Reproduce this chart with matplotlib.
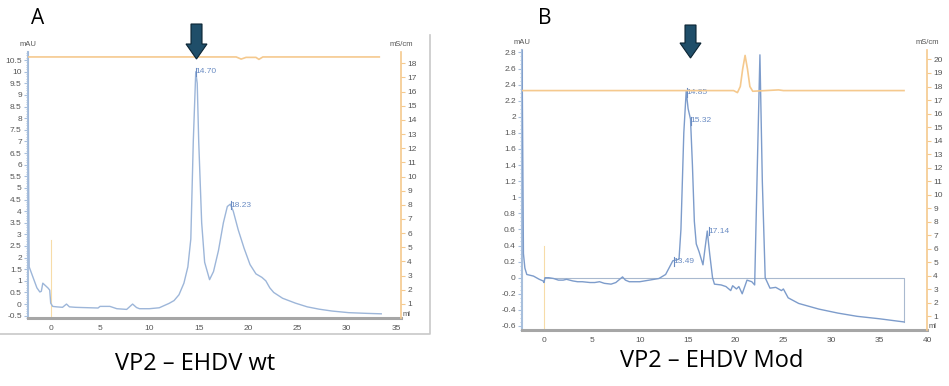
import numpy as np
import matplotlib.pyplot as plt
from matplotlib.lines import Line2D
from matplotlib.patches import Polygon

# ---- panel A: VP2 - EHDV wt ----
a_ml = [-2.30, -2.25, -2.18, -1.8, -1.4, -1.1, -0.95, -0.8, -0.6, -0.27, -0.1, 0.0, 0.2, 0.6,
        1.2, 1.6, 1.9, 2.5, 3.2, 4.0, 4.8, 5.0, 5.5, 6.0, 6.7, 7.7, 8.3, 8.7, 9.0, 10.0, 11.0,
        12.0, 12.5, 13.0, 13.5, 13.9, 14.2, 14.45, 14.7, 14.85, 15.0, 15.3, 15.6, 16.1, 16.5,
        17.0, 17.5, 17.9, 18.2, 18.5, 19.0, 19.6, 20.2, 20.8, 21.4, 21.8, 22.2, 22.6, 23.5,
        24.8, 26.0, 27.2, 28.5, 30.2, 32.0, 33.5]
a_mau = [10.85, 6.0, 1.6, 1.16, 0.7, 0.52, 0.55, 0.9, 0.82, 0.69, 0.6, 0.04, -0.1, -0.12,
         -0.14, 0.0, -0.12, -0.14, -0.15, -0.16, -0.17, -0.1, -0.1, -0.1, -0.2, -0.23, 0.0,
         -0.15, -0.2, -0.2, -0.16, 0.03, 0.15, 0.4, 0.9, 1.6, 2.8, 7.0, 10.0, 9.5, 7.0, 3.5,
         1.8, 1.05, 1.4, 2.3, 3.5, 4.2, 4.3, 4.0, 3.2, 2.4, 1.7, 1.3, 1.15, 1.0, 0.7, 0.5,
         0.25, 0.04, -0.12, -0.22, -0.3, -0.37, -0.4, -0.42]
a_cond_ml = [-2.3, 18.8, 19.3, 19.8, 20.8, 21.1, 21.5, 33.3]
a_cond = [18.45, 18.45, 18.3, 18.42, 18.42, 18.28, 18.45, 18.45]
a_peaks = [(14.70, 10.0, "14.70"), (18.23, 4.25, "18.23")]

# ---- panel B: VP2 - EHDV Mod ----
b_ml = [-2.30, -2.22, -2.15, -2.0, -1.8, -1.1, -0.5, -0.1, 0.0, 0.1, 0.5, 1.0, 1.5, 2.0,
        2.35, 3.0, 3.5, 4.0, 4.8, 5.3, 5.8, 6.3, 7.0, 7.5, 8.2, 8.5, 8.9, 9.5, 10.0, 11.0,
        12.0, 12.7, 13.1, 13.45, 13.8, 14.1, 14.3, 14.6, 14.85, 15.05, 15.3, 15.5, 15.7,
        15.9, 16.2, 16.4, 16.6, 16.8, 17.05, 17.3, 17.6, 17.8, 18.5, 19.0, 19.5, 19.7, 20.1,
        20.35, 20.7, 21.2, 21.7, 22.0, 22.3, 22.55, 22.8, 23.1, 23.6, 24.2, 24.8, 25.0, 25.5,
        26.6, 28.7, 30.7, 32.7, 35.0, 37.6]
b_mau = [2.85, 1.5, 0.3, 0.12, 0.04, 0.02, -0.02, -0.04, -0.06, 0.0, 0.0, -0.01, -0.03,
         -0.03, -0.02, -0.04, -0.05, -0.05, -0.06, -0.06, -0.05, -0.07, -0.08, -0.06, 0.01,
         -0.03, -0.05, -0.05, -0.05, -0.03, -0.01, 0.04, 0.13, 0.21, 0.22, 0.23, 0.6, 1.8,
         2.32, 2.1, 1.97, 1.4, 0.7, 0.42, 0.32, 0.24, 0.16, 0.35, 0.58, 0.3, 0.0, -0.08,
         -0.09, -0.11, -0.16, -0.1, -0.14, -0.11, -0.2, -0.03, -0.05, -0.09, 1.5, 2.77, 1.2,
         0.0, -0.13, -0.12, -0.16, -0.14, -0.25, -0.32, -0.39, -0.44, -0.48, -0.51, -0.55]
b_cond_ml = [-2.3, 19.8, 20.2, 20.5, 20.75, 21.0, 21.25, 21.5, 21.8, 24.5, 25.0, 37.6]
b_cond = [17.7, 17.7, 17.55, 18.0, 19.3, 20.3, 19.3, 18.0, 17.65, 17.75, 17.7, 17.7]
b_peaks = [(13.49, 0.2, "13.49"), (14.85, 2.3, "14.85"), (15.32, 1.95, "15.32"),
           (17.14, 0.58, "17.14")]

W, H = 949, 386
fig = plt.figure(figsize=(W / 100, H / 100), dpi=100)
plt.rcParams['font.family'] = ['Liberation Sans', 'DejaVu Sans']

trace_col = '#9db6d9'
cond_col = '#f5c98e'
tick_col = '#555555'
peak_col = '#6a8cc3'


def rect(l, t, r, b):
    return [l / W, 1 - b / H, (r - l) / W, (b - t) / H]


def fx(px):
    return px / W


def fy(py):
    return 1 - py / H


def panel(box, ml, mau, cml, cond, peaks, xlim, ylim, yticks, ytl, y2lim, y2max, xmax_tick,
          inj_top, minor, tcol, base=None):
    ax = fig.add_axes(rect(*box))
    ax2 = ax.twinx()
    ax.plot(ml, mau, color=tcol, lw=1.0, zorder=3)
    ax2.plot(cml, cond, color=cond_col, lw=1.2)
    ax.plot([0, 0], [ylim[0], inj_top], color='#f7dca8', lw=0.8, zorder=1)
    if base is not None:
        ax.plot([0, base[0], base[0]], [0, 0, base[1]], color='#a9b9cf', lw=0.8, zorder=2)
    ax.set_xlim(*xlim)
    ax.set_ylim(*ylim)
    ax2.set_ylim(*y2lim)
    ax.set_xticks(range(0, xmax_tick + 1, 5))
    ax.set_yticks(yticks)
    ax.set_yticklabels(ytl)
    ax.set_yticks(np.arange(ylim[0] - ylim[0] % minor, ylim[1], minor), minor=True)
    ax2.set_yticks(range(1, y2max + 1))
    for s in ['top', 'right']:
        ax.spines[s].set_visible(False)
    for s in ['top', 'left', 'bottom']:
        ax2.spines[s].set_visible(False)
    ax.spines['left'].set_color('#a8bfdc')
    ax.spines['left'].set_linewidth(1.5)
    ax.spines['bottom'].set_color('#a6a6a6')
    ax.spines['bottom'].set_linewidth(2.2)
    ax2.spines['right'].set_color(cond_col)
    ax2.spines['right'].set_linewidth(1.2)
    ax.tick_params(axis='y', labelsize=6, colors='#a8bfdc', labelcolor=tick_col, length=3,
                   pad=1.5)
    ax.tick_params(axis='y', which='minor', colors='#a8bfdc', length=1.5)
    ax.tick_params(axis='x', labelsize=6, labelcolor=tick_col, length=0, pad=5)
    ax2.tick_params(axis='y', labelsize=6, colors=cond_col, labelcolor=tick_col, length=3,
                    pad=1.5)
    span = ylim[1] - ylim[0]
    for x, y, lab in peaks:
        ax.text(x, y, lab, color=peak_col, fontsize=6, ha='left', va='center', zorder=4)
        ax.plot([x + 0.05, x + 0.05], [y - span * 0.015, y + span * 0.015],
                color=peak_col, lw=0.8, zorder=4)
    l, t, r, b = box
    fig.text(fx(l), fy(t - 8), 'mAU', fontsize=5.5, color=tick_col, ha='center', va='center')
    fig.text(fx(r), fy(t - 8), 'mS/cm', fontsize=5.5, color=tick_col, ha='center',
             va='center')
    fig.text(fx(r + 2), fy(b - 3), 'ml', fontsize=5.5, color=tick_col, ha='left',
             va='center')
    return ax


def arrow(cx, top, bot):
    sw, hw, hl = 5.5, 10.5, 15
    pts = [(cx - sw, top), (cx + sw, top), (cx + sw, bot - hl), (cx + hw, bot - hl),
           (cx, bot), (cx - hw, bot - hl), (cx - sw, bot - hl)]
    fig.add_artist(Polygon([(fx(x), fy(y)) for x, y in pts], closed=True,
                           facecolor='#1f4e69', edgecolor='#0b2433', lw=0.8,
                           transform=fig.transFigure))


a_yt = np.arange(-0.5, 10.51, 0.5)
a_ytl = [('%g' % v) for v in a_yt]
panel((28, 52, 401, 318), a_ml, a_mau, a_cond_ml, a_cond, a_peaks, (-2.3, 35.5),
      (-0.6, 10.85), a_yt, a_ytl, (0, 18.8), 18, 35, 2.75, 0.1, trace_col)

b_yt = np.round(np.arange(-0.6, 2.81, 0.2), 1)
b_ytl = [('%g' % v) for v in b_yt]
panel((522, 50, 927, 330), b_ml, b_mau, b_cond_ml, b_cond, b_peaks, (-2.3, 39.8),
      (-0.62, 2.83), b_yt, b_ytl, (0, 20.7), 20, 40, 0.4, 0.05, '#7d9ccb',
      base=(37.6, -0.55))

# screenshot border of panel A
fig.add_artist(Line2D([0, fx(430), fx(430)], [fy(334), fy(334), fy(35)], color='#c8c8c8',
                      lw=1.2, transform=fig.transFigure))

arrow(196.5, 24, 59)
arrow(690.5, 25, 58)

fig.text(fx(38), fy(18), 'A', fontsize=15, family=['Open Sans', 'DejaVu Sans'],
         ha='center', va='center')
fig.text(fx(545), fy(18), 'B', fontsize=15, family=['Open Sans', 'DejaVu Sans'],
         ha='center', va='center')
fig.text(fx(195), fy(364), 'VP2 \u2013 EHDV wt', fontsize=17,
         family=['Open Sans', 'DejaVu Sans'], ha='center', va='center')
fig.text(fx(712), fy(361), 'VP2 \u2013 EHDV Mod', fontsize=17,
         family=['Open Sans', 'DejaVu Sans'], ha='center', va='center')

fig.savefig('out.png', dpi=100)
